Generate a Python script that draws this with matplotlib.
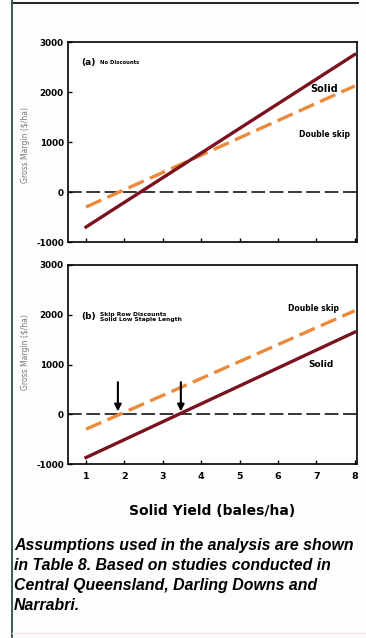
import matplotlib
matplotlib.use("Agg")
import matplotlib.pyplot as plt
from matplotlib.lines import Line2D

plt.rcParams["axes.unicode_minus"] = False

# ---- data ----
yield_x = [1, 8]
top_solid = [-700, 2750]
top_double = [-300, 2120]
bot_solid = [-870, 1650]
bot_double = [-300, 2080]
breakeven_x = [1.83, 3.47]
x_ticks = [1, 2, 3, 4, 5, 6, 7, 8]
y_ticks = [-1000, 0, 1000, 2000, 3000]
panel_a = "No Discounts"
panel_b = "Skip Row Discounts\nSolid Low Staple Length"
note = ("Assumptions used in the analysis are shown\n"
        "in Table 8. Based on studies conducted in\n"
        "Central Queensland, Darling Downs and\n"
        "Narrabri.")

W, H = 366, 638
fig = plt.figure(figsize=(W / 100, H / 100), dpi=100)
fig.patch.set_facecolor("#fcfefd")

def fx(px):
    return px / W

def fy(py):
    return 1 - py / H

solid_c = "#7b1220"
dbl_c = "#ec8a3c"

def make_ax(top, bottom):
    ax = fig.add_axes([fx(68), fy(bottom), fx(357) - fx(68), fy(top) - fy(bottom)])
    ax.set_facecolor("white")
    ax.set_xlim(0.53, 8.06)
    ax.set_ylim(-1000, 3000)
    ax.set_yticks(y_ticks)
    ax.set_xticks(x_ticks)
    ax.tick_params(direction="in", length=3, width=1, labelsize=6.3, pad=3)
    for lab in ax.get_yticklabels():
        lab.set_fontweight("bold")
    for s in ax.spines.values():
        s.set_linewidth(1.2)
    ax.axhline(0, color="black", lw=1.1, dashes=(9, 3), zorder=1)
    return ax

ax1 = make_ax(42, 242)
ax1.plot(yield_x, top_double, color=dbl_c, lw=2.4, dashes=(5, 2), zorder=2)
ax1.plot(yield_x, top_solid, color=solid_c, lw=2.4, zorder=3)
ax1.tick_params(labelbottom=False)
ax1.text(0.045, 0.895, "(a)", transform=ax1.transAxes, fontsize=6.5,
         fontweight="bold", va="center")
ax1.text(0.11, 0.895, panel_a, transform=ax1.transAxes, fontsize=3.8,
         fontweight="bold", va="center")
ax1.text(6.85, 2070, "Solid", fontsize=7, fontweight="bold", va="center")
ax1.text(6.55, 1150, "Double skip", fontsize=5.5, fontweight="bold", va="center")

ax2 = make_ax(265, 464)
ax2.plot(yield_x, bot_double, color=dbl_c, lw=2.4, dashes=(5, 2), zorder=2)
ax2.plot(yield_x, bot_solid, color=solid_c, lw=2.4, zorder=3)
for bx in breakeven_x:
    ax2.annotate("", xy=(bx, 0), xytext=(bx, 700),
                 arrowprops=dict(arrowstyle="-|>", color="black", lw=1.5,
                                 mutation_scale=10), zorder=4)
ax2.text(0.045, 0.74, "(b)", transform=ax2.transAxes, fontsize=6.5,
         fontweight="bold", va="center")
ax2.text(0.11, 0.74, panel_b, transform=ax2.transAxes, fontsize=4.3,
         fontweight="bold", va="center", linespacing=1.0)
ax2.text(6.25, 2120, "Double skip", fontsize=5.5, fontweight="bold", va="center")
ax2.text(6.8, 1000, "Solid", fontsize=6.5, fontweight="bold", va="center")
for lab in ax2.get_xticklabels():
    lab.set_fontweight("bold")
ax2.tick_params(axis="x", labelsize=6.8, pad=6)

ax2.set_xlabel("Solid Yield (bales/ha)", fontsize=10, fontweight="bold", labelpad=16)

for top, bottom in [(105, 185), (312, 393)]:
    fig.text(fx(26), fy((top + bottom) / 2), "Gross Margin ($/ha)", rotation=90,
             fontsize=5.5, color="#777777", ha="center", va="center")

fig.text(fx(14), fy(538), note, fontsize=11.4, fontweight="bold", style="italic",
         family="Liberation Sans", va="top", ha="left", linespacing=1.42)

fig.add_artist(Line2D([fx(12), fx(358)], [fy(3), fy(3)], color="#222222", lw=1.4))
fig.add_artist(Line2D([fx(12), fx(12)], [0, 1], color="#3c5a4a", lw=1.4))
fig.add_artist(Line2D([fx(12), 1], [fy(633), fy(633)], color="#f3e4e4", lw=1.0))

fig.savefig("out.png", dpi=100, facecolor=fig.get_facecolor())
